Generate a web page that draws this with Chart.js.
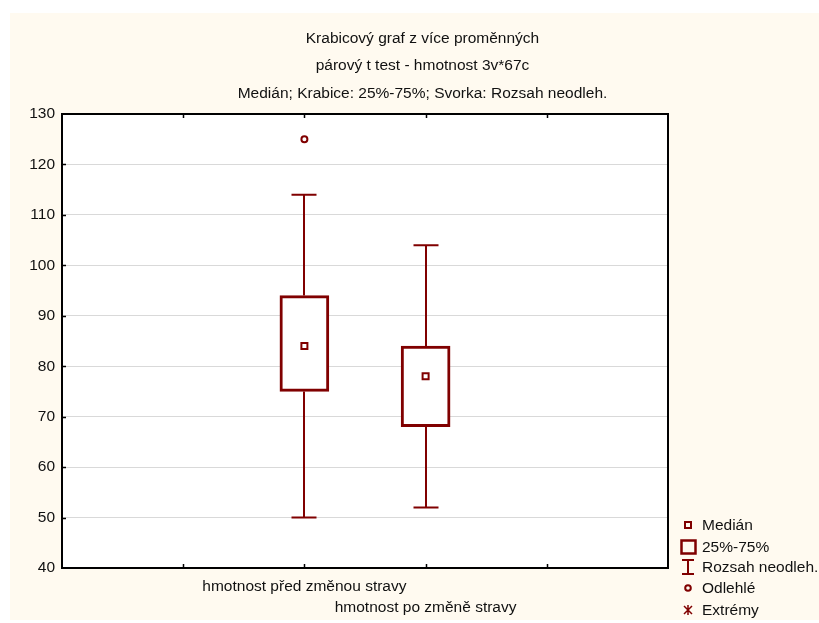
<!DOCTYPE html>
<html>
<head>
<meta charset="utf-8">
<script src="https://cdn.jsdelivr.net/npm/chart.js@4/dist/chart.umd.min.js"></script>
<style>
  html, body { margin: 0; padding: 0; background: #ffffff; }
  #wrap { width: 819px; height: 623px; }
</style>
</head>
<body>
<div id="wrap"><canvas id="c" width="819" height="623"></canvas></div>
<script>
// Box plot: weight before and after a change of diet
const categories = ['hmotnost před změnou stravy', 'hmotnost po změně stravy'];
const positions = [2, 3];
const whiskerLow = [50, 52];
const q1 = [75, 68];
const medians = [84, 78];
const q3 = [94, 84];
const whiskerHigh = [114, 104];
const outlierValues = [[125], []];
const extremeValues = [[], []];
const titleLines = [
  'Krabicový graf z více proměnných',
  'párový t test - hmotnost 3v*67c',
  'Medián; Krabice: 25%-75%; Svorka: Rozsah neodleh.'
];
const legendLabels = ['Medián', '25%-75%', 'Rozsah neodleh.', 'Odlehlé', 'Extrémy'];
const yMin = 40, yMax = 130, yStep = 10;
const xMin = 0, xMax = 5;

const RED = '#800000';
const FONT = '"Liberation Sans", Arial, sans-serif';
const FS = 15.5;

const outlierPoints = [];
positions.forEach((p, i) => outlierValues[i].forEach(v => outlierPoints.push({ x: p, y: v })));
const extremePoints = [];
positions.forEach((p, i) => extremeValues[i].forEach(v => extremePoints.push({ x: p, y: v })));

const panelPlugin = {
  id: 'panel',
  beforeDraw(chart) {
    const ctx = chart.ctx, a = chart.chartArea;
    ctx.save();
    ctx.fillStyle = '#ffffff';
    ctx.fillRect(0, 0, chart.width, chart.height);
    ctx.fillStyle = '#fffaf0';
    ctx.fillRect(10, 13, chart.width - 10, chart.height - 16);
    ctx.fillStyle = '#ffffff';
    ctx.fillRect(a.left, a.top, a.right - a.left, a.bottom - a.top);
    ctx.restore();
  }
};

const whiskerPlugin = {
  id: 'whiskers',
  beforeDatasetsDraw(chart) {
    const ctx = chart.ctx, xs = chart.scales.x, ys = chart.scales.y;
    ctx.save();
    ctx.strokeStyle = RED;
    ctx.lineWidth = 2;
    positions.forEach((p, i) => {
      const x = Math.round(xs.getPixelForValue(p));
      const yLo = ys.getPixelForValue(whiskerLow[i]);
      const yQ1 = ys.getPixelForValue(q1[i]);
      const yQ3 = ys.getPixelForValue(q3[i]);
      const yHi = ys.getPixelForValue(whiskerHigh[i]);
      const cap = 12.5;
      ctx.beginPath();
      ctx.moveTo(x, yLo); ctx.lineTo(x, yQ1);
      ctx.moveTo(x, yQ3); ctx.lineTo(x, yHi);
      ctx.moveTo(x - cap, yLo); ctx.lineTo(x + cap, yLo);
      ctx.moveTo(x - cap, yHi); ctx.lineTo(x + cap, yHi);
      ctx.stroke();
    });
    ctx.restore();
  }
};

const framePlugin = {
  id: 'frame',
  afterDraw(chart) {
    const ctx = chart.ctx, a = chart.chartArea, xs = chart.scales.x, ys = chart.scales.y;
    ctx.save();
    ctx.strokeStyle = '#000';
    ctx.lineWidth = 2;
    ctx.strokeRect(a.left, a.top, a.right - a.left, a.bottom - a.top);
    ctx.lineWidth = 1.5;
    ctx.beginPath();
    for (let v = yMin + yStep; v < yMax; v += yStep) {
      const y = Math.round(ys.getPixelForValue(v)) + 0.5;
      ctx.moveTo(a.left, y); ctx.lineTo(a.left + 4, y);
    }
    for (let v = xMin + 1; v < xMax; v++) {
      const x = Math.round(xs.getPixelForValue(v)) + 0.5;
      ctx.moveTo(x, a.top); ctx.lineTo(x, a.top + 4);
      ctx.moveTo(x, a.bottom); ctx.lineTo(x, a.bottom - 4);
    }
    ctx.stroke();

    // Title
    ctx.fillStyle = '#111';
    ctx.font = FS + 'px ' + FONT;
    ctx.textAlign = 'center';
    ctx.textBaseline = 'alphabetic';
    const tx = 422.5;
    [43, 70, 98].forEach((y, i) => ctx.fillText(titleLines[i], tx, y));

    // Legend
    const ix = 688, lx = 702;
    const rows = [525, 547, 567, 588, 610];
    ctx.strokeStyle = RED;
    ctx.lineWidth = 2;
    // median marker
    ctx.strokeRect(ix - 3, rows[0] - 3, 6, 6);
    // box
    ctx.lineWidth = 2.5;
    ctx.strokeRect(ix - 6.5, rows[1] - 6.5, 14, 13);
    // whisker range
    ctx.lineWidth = 2;
    ctx.beginPath();
    ctx.moveTo(ix, rows[2] - 7); ctx.lineTo(ix, rows[2] + 7);
    ctx.moveTo(ix - 6, rows[2] - 7); ctx.lineTo(ix + 6, rows[2] - 7);
    ctx.moveTo(ix - 6, rows[2] + 7); ctx.lineTo(ix + 6, rows[2] + 7);
    ctx.stroke();
    // outlier
    ctx.beginPath();
    ctx.arc(ix, rows[3], 2.8, 0, Math.PI * 2);
    ctx.stroke();
    // extreme
    ctx.lineWidth = 1.5;
    ctx.beginPath();
    ctx.moveTo(ix, rows[4] - 5); ctx.lineTo(ix, rows[4] + 5);
    ctx.moveTo(ix - 4, rows[4] - 4); ctx.lineTo(ix + 4, rows[4] + 4);
    ctx.moveTo(ix + 4, rows[4] - 4); ctx.lineTo(ix - 4, rows[4] + 4);
    ctx.stroke();

    ctx.fillStyle = '#111';
    ctx.textAlign = 'left';
    ctx.textBaseline = 'middle';
    legendLabels.forEach((t, i) => ctx.fillText(t, lx, rows[i] + 1));
    ctx.restore();
  }
};

new Chart(document.getElementById('c'), {
  type: 'bar',
  data: {
    datasets: [
      {
        type: 'scatter',
        label: legendLabels[0],
        data: positions.map((p, i) => ({ x: p, y: medians[i] })),
        pointStyle: 'rect',
        pointRadius: 4.25,
        borderWidth: 2,
        borderColor: RED,
        backgroundColor: '#ffffff',
        order: 1
      },
      {
        type: 'scatter',
        label: legendLabels[3],
        data: outlierPoints,
        pointStyle: 'circle',
        pointRadius: 3,
        borderWidth: 2,
        borderColor: RED,
        backgroundColor: '#ffffff',
        order: 1
      },
      {
        type: 'scatter',
        label: legendLabels[4],
        data: extremePoints,
        pointStyle: 'star',
        pointRadius: 5,
        borderWidth: 1.5,
        borderColor: RED,
        order: 1
      },
      {
        type: 'bar',
        label: legendLabels[1],
        data: positions.map((p, i) => ({ x: p, y: [q1[i], q3[i]] })),
        backgroundColor: '#ffffff',
        borderColor: RED,
        borderWidth: 3,
        borderSkipped: false,
        barThickness: 49,
        order: 2
      }
    ]
  },
  options: {
    responsive: false,
    animation: false,
    devicePixelRatio: 1,
    layout: { padding: { left: 0, top: 114, right: 151, bottom: 0 } },
    plugins: {
      legend: { display: false },
      title: { display: false },
      tooltip: { enabled: false }
    },
    scales: {
      x: {
        type: 'linear',
        min: xMin,
        max: xMax,
        offset: false,
        afterFit(s) { s.height = 55; },
        border: { display: false },
        grid: { display: false, drawTicks: false },
        ticks: {
          stepSize: 1,
          autoSkip: false,
          maxRotation: 0,
          minRotation: 0,
          padding: 9,
          color: '#111',
          font: { family: FONT, size: FS, lineHeight: 1.3 },
          callback(v) {
            const i = positions.indexOf(v);
            if (i === 0) return [categories[0], ''];
            if (i === 1) return ['', categories[1]];
            return '';
          }
        }
      },
      y: {
        min: yMin,
        max: yMax,
        afterFit(s) { s.width = 62; },
        border: { display: false },
        grid: { color: '#d9d9d9', lineWidth: 1, drawTicks: false },
        ticks: {
          stepSize: yStep,
          padding: 7,
          color: '#111',
          font: { family: FONT, size: FS }
        }
      }
    }
  },
  plugins: [panelPlugin, whiskerPlugin, framePlugin]
});
</script>
</body>
</html>
